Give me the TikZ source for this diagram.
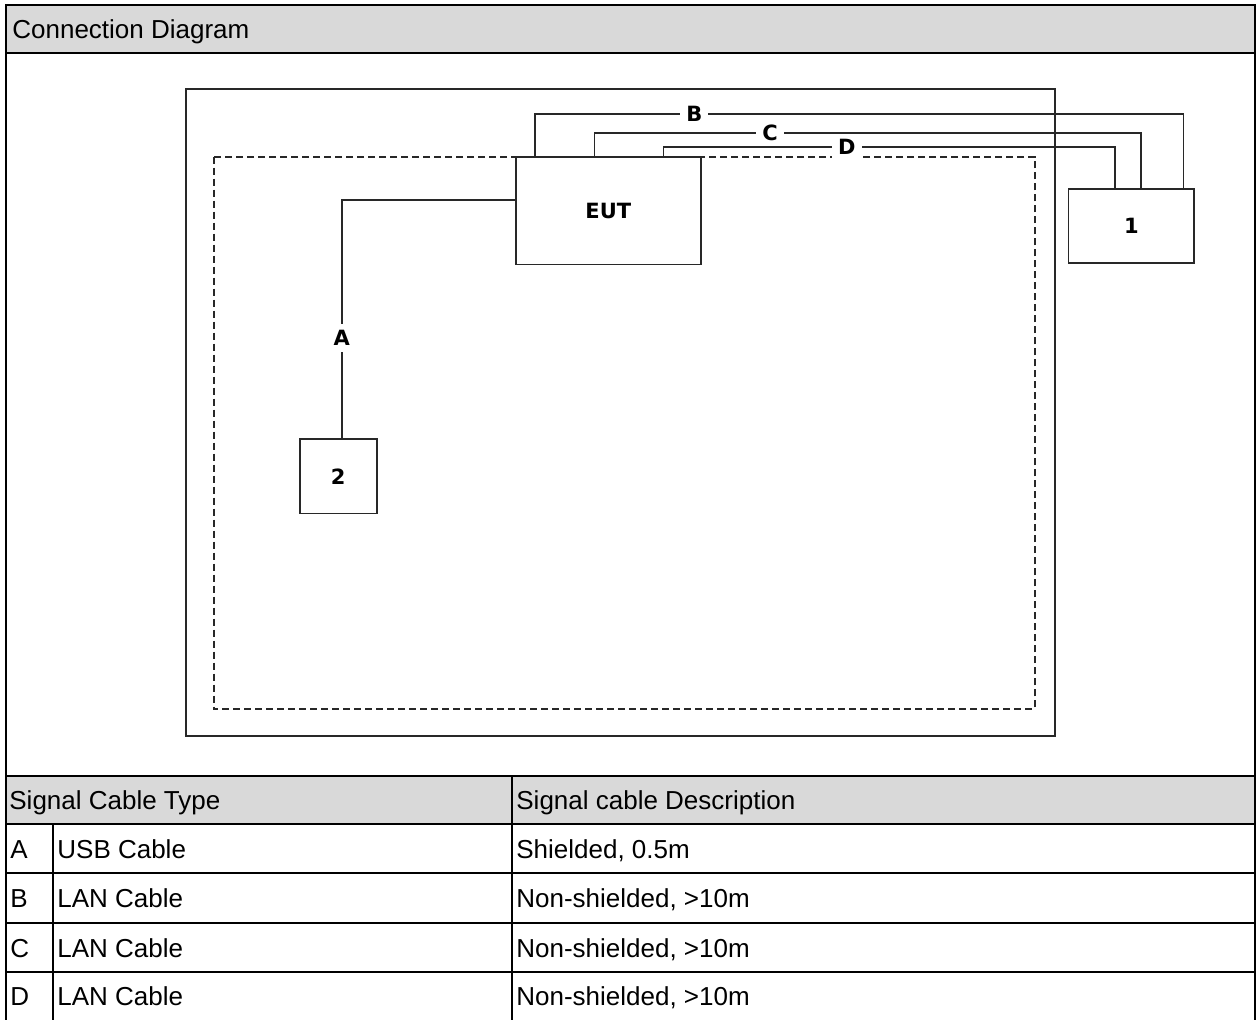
\documentclass[tikz,border=0pt]{standalone}
\usepackage{fontspec}
\setmainfont{Liberation Sans}
\newfontfamily\labelfont{DejaVu Sans}
\usetikzlibrary{positioning}
\definecolor{headgray}{RGB}{217,217,217}
\definecolor{linegray}{RGB}{40,40,40}
\tikzset{
  devbox/.style={draw=linegray, line width=0.9pt, inner sep=0pt,
    font=\labelfont\bfseries\fontsize{10.5}{12}\selectfont},
  wire/.style={draw=linegray, line width=0.85pt},
  cablelbl/.style={fill=white, inner sep=3pt,
    font=\labelfont\bfseries\fontsize{10.5}{12}\selectfont},
  celltext/.style={anchor=base west, inner sep=0pt, font=\fontsize{13}{15}\selectfont},
  gridline/.style={line width=1.1pt},
}
\begin{document}
\begin{tikzpicture}[x=0.5pt, y=-0.5pt]
\useasboundingbox (0,0) rectangle (1260,1019);
% frame and table
\fill[headgray] (6,5) rectangle (1255,53);
\fill[headgray] (6,776) rectangle (1255,824);
\draw[line width=1.3pt] (6,1030) -- (6,5) -- (1255,5) -- (1255,1030);
\draw[gridline] (6,53) -- (1255,53);
\draw[line width=1.4pt] (6,776) -- (1255,776);
\foreach \y in {824,873,923,972}
  \draw[gridline] (6,\y) -- (1255,\y);
\draw[gridline] (512,776) -- (512,1030);
\draw[gridline] (53,824) -- (53,1030);
\node[celltext] (title) at (12,38.5) {Connection Diagram};
\node[celltext] (typehead) at (9,809.5) {Signal Cable Type};
\node[celltext] (deschead) at (516,809.5) {Signal cable Description};
\foreach \k/\y/\t/\d in {A/858/USB Cable/{Shielded, 0.5m},
    B/907.5/LAN Cable/{Non-shielded, >10m},
    C/957/LAN Cable/{Non-shielded, >10m},
    D/1005.5/LAN Cable/{Non-shielded, >10m}}{
  \node[celltext] (key\k) at (10,\y) {\k};
  \node[celltext] (type\k) at (57,\y) {\t};
  \node[celltext] (desc\k) at (516,\y) {\d};
}
% test site
\draw[line width=1.1pt, linegray] (186,89) rectangle (1055,736);
\draw[line width=1pt, linegray, dash pattern=on 3.5pt off 2pt] (213.5,156.7) rectangle (1034.5,709);
\node[devbox, minimum width=92.3pt, minimum height=53.9pt] (eut) at (608.3,210.6) {EUT};
\node[devbox, minimum width=62.9pt, minimum height=37.3pt] (unit1) at (1131.3,226) {1};
\node[devbox, minimum width=38.3pt, minimum height=37.2pt] (unit2) at (338.3,476.2) {2};
% cables
\coordinate (levelB) at (0,114.3);
\coordinate (levelC) at (0,132.7);
\coordinate (levelD) at (0,147.3);
\coordinate (eutB) at ([xshift=9.9pt]eut.north west);
\coordinate (eutC) at ([xshift=39.75pt]eut.north west);
\coordinate (eutD) at ([xshift=74.2pt]eut.north west);
\coordinate (unit1B) at ([xshift=-5.75pt]unit1.north east);
\coordinate (unit1C) at ([xshift=36.75pt]unit1.north west);
\coordinate (unit1D) at ([xshift=23.8pt]unit1.north west);
\draw[wire] ([yshift=-22.15pt]eut.north west) -| node[cablelbl, pos=0.79] (lblA) {A} ([xshift=1.7pt]unit2.north);
\draw[wire] (eutB) -- (eutB |- levelB) -- node[cablelbl, pos=0.246] (lblB) {B} (unit1B |- levelB) -- (unit1B);
\draw[wire] (eutC) -- (eutC |- levelC) -- node[cablelbl, pos=0.321] (lblC) {C} (unit1C |- levelC) -- (unit1C);
\draw[wire] (eutD) -- (eutD |- levelD) -- node[cablelbl, pos=0.406] (lblD) {D} (unit1D |- levelD) -- (unit1D);
\end{tikzpicture}
\end{document}
